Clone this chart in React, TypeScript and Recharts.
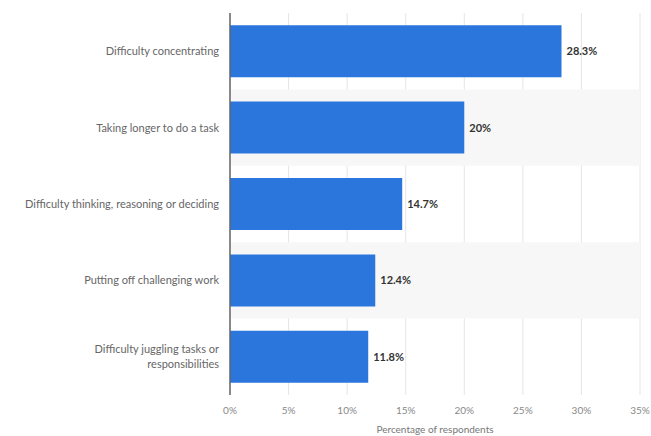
import { BarChart, Bar, XAxis, YAxis, CartesianGrid, LabelList, ReferenceArea } from 'recharts';

const categories = [
    'Difficulty concentrating',
    'Taking longer to do a task',
    'Difficulty thinking, reasoning or deciding',
    'Putting off challenging work',
    'Difficulty juggling tasks or responsibilities',
];
const shares = [28.3, 20, 14.7, 12.4, 11.8];
const xTicks = [0, 5, 10, 15, 20, 25, 30, 35];
const shadedRows = [categories[1], categories[3]];
// labels that break onto two lines in the original
const labelLines: Record<string, string[]> = {
    'Difficulty juggling tasks or responsibilities': ['Difficulty juggling tasks or', 'responsibilities'],
};

const data = categories.map((name, i) => ({ name, value: shares[i] }));

const FONT = 'Lato, "Open Sans", sans-serif';

const CategoryTick = (props: any) => {
    const { x, y, payload } = props;
    const lines = labelLines[payload.value] || [payload.value];
    const lh = 15;
    const startY = y - ((lines.length - 1) * lh) / 2 + 4;
    return (
        <text x={x} y={startY} textAnchor="end" fontSize={11} fontFamily={FONT} fill="#666">
            {lines.map((line, i) => (
                <tspan key={i} x={x} dy={i === 0 ? 0 : lh}>
                    {line}
                </tspan>
            ))}
        </text>
    );
};

export default function App() {
    return (
        <div style={{ position: 'absolute', left: 0, top: 0, background: '#fff' }}>
            <BarChart
                width={651}
                height={436}
                data={data}
                layout="vertical"
                margin={{ top: 13, right: 11, bottom: 0, left: 0 }}
                barCategoryGap="16%"
            >
                {shadedRows.map((row) => (
                    <ReferenceArea key={row} y1={row} y2={row} fill="#f7f7f7" fillOpacity={1} stroke="none" ifOverflow="visible" />
                ))}
                <CartesianGrid horizontal={false} stroke="#e6e6e6" />
                <XAxis
                    type="number"
                    domain={[0, 35]}
                    ticks={xTicks}
                    tickFormatter={(v) => `${v}%`}
                    axisLine={false}
                    tickLine={false}
                    tickSize={0}
                    tickMargin={12}
                    height={41}
                    tick={{ fontSize: 10, fill: '#888', fontFamily: FONT }}
                    label={{ value: 'Percentage of respondents', position: 'insideBottom', offset: 3, fontSize: 10, fill: '#777', fontFamily: FONT }}
                />
                <YAxis
                    type="category"
                    dataKey="name"
                    width={230}
                    axisLine={{ stroke: '#666', strokeWidth: 1.5 }}
                    tickLine={false}
                    tickSize={0}
                    tickMargin={11}
                    tick={<CategoryTick />}
                    interval={0}
                />
                <Bar dataKey="value" fill="#2a76dd" isAnimationActive={false}>
                    <LabelList
                        dataKey="value"
                        position="right"
                        offset={5}
                        formatter={(v: any) => `${v}%`}
                        style={{ fontSize: 11, fontWeight: 700, fill: '#333', fontFamily: FONT }}
                    />
                </Bar>
            </BarChart>
        </div>
    );
}
